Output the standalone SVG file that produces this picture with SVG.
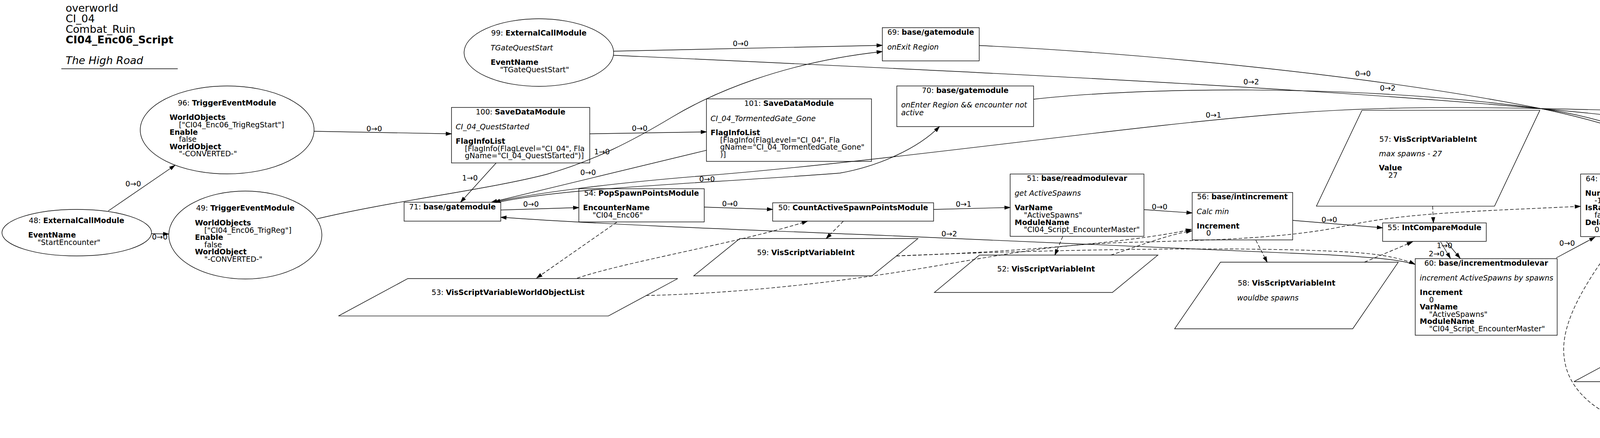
<svg xmlns="http://www.w3.org/2000/svg" width="5501" height="1121" viewBox="0 0 5501 1121">
<defs>
<style>
text{font-family:"DejaVu Sans","Liberation Sans",sans-serif;font-size:19px;fill:#000}
.b{font-weight:bold}.i{font-style:italic}.m{text-anchor:middle}
.h{font-size:27px}
.s{fill:#fff;stroke:#000;stroke-width:1.4}
.e{fill:none;stroke:#000;stroke-width:1.4}
.d{stroke-dasharray:9,5}
</style>
<marker id="a" markerWidth="15" markerHeight="10" refX="14" refY="5" orient="auto" markerUnits="userSpaceOnUse" overflow="visible"><path d="M0,0.5 L14,5 L0,9.5 z" fill="#000" stroke="#000" stroke-width="1"/></marker>
</defs>
<rect width="5501" height="1121" fill="#fff"/>
<g id="title">
<text class="h" x="168" y="30">overworld</text>
<text class="h" x="168" y="57">CI_04</text>
<text class="h" x="168" y="84">Combat_Ruin</text>
<text class="h b" x="168" y="111">CI04_Enc06_Script</text>
<text class="h i" x="168" y="164">The High Road</text>
<line x1="157" y1="176" x2="455" y2="176" stroke="#000" stroke-width="1.4"/>
</g>
<g id="nodes">
<g id="n48"><ellipse class="s" cx="196.5" cy="595.5" rx="191.5" ry="59.5"/>
<text class="m" x="196" y="571">48: <tspan class="b">ExternalCallModule</tspan></text>
<text class="b" x="72" y="608">EventName</text><text x="96" y="627">"StartEncounter"</text></g>
<g id="n96"><ellipse class="s" cx="581.5" cy="332.5" rx="222.5" ry="112.5"/>
<text class="m" x="581" y="270">96: <tspan class="b">TriggerEventModule</tspan></text>
<text class="b" x="434" y="307">WorldObjects</text><text x="458" y="326">["CI04_Enc06_TrigRegStart"]</text>
<text class="b" x="434" y="345">Enable</text><text x="458" y="363">false</text>
<text class="b" x="434" y="382">WorldObject</text><text x="458" y="400">"-CONVERTED-"</text></g>
<g id="n49"><ellipse class="s" cx="628" cy="601.5" rx="196" ry="112.5"/>
<text class="m" x="628" y="539">49: <tspan class="b">TriggerEventModule</tspan></text>
<text class="b" x="499" y="577">WorldObjects</text><text x="523" y="596">["CI04_Enc06_TrigReg"]</text>
<text class="b" x="499" y="614">Enable</text><text x="523" y="633">false</text>
<text class="b" x="499" y="651">WorldObject</text><text x="523" y="670">"-CONVERTED-"</text></g>
<g id="n99"><ellipse class="s" cx="1379.5" cy="134.5" rx="191.5" ry="86.5"/>
<text class="m" x="1379.5" y="91">99: <tspan class="b">ExternalCallModule</tspan></text>
<text class="i" x="1256" y="129">TGateQuestStart</text>
<text class="b" x="1256" y="166">EventName</text><text x="1280" y="184.5">"TGateQuestStart"</text></g>
<g id="n100"><rect class="s" x="1155.8" y="275" width="353.9" height="142"/>
<text class="m" x="1332.7" y="293">100: <tspan class="b">SaveDataModule</tspan></text>
<text class="i" x="1166.5" y="331">CI_04_QuestStarted</text>
<text class="b" x="1166.5" y="368">FlagInfoList</text>
<text x="1190" y="387">[FlagInfo(FlagLevel="CI_04", Fla</text>
<text x="1190" y="405">gName="CI_04_QuestStarted")]</text></g>
<g id="n101"><rect class="s" x="1808.5" y="253" width="422.5" height="160"/>
<text class="m" x="2020" y="271">101: <tspan class="b">SaveDataModule</tspan></text>
<text class="i" x="1819" y="310">CI_04_TormentedGate_Gone</text>
<text class="b" x="1819" y="346">FlagInfoList</text>
<text x="1843.5" y="364.6">[FlagInfo(FlagLevel="CI_04", Fla</text>
<text x="1843.5" y="383">gName="CI_04_TormentedGate_Gone"</text>
<text x="1843.5" y="402">)]</text></g>
<g id="n69"><rect class="s" x="2258.7" y="70.8" width="248" height="85"/>
<text class="m" x="2382.7" y="89.4">69: <tspan class="b">base/gatemodule</tspan></text>
<text class="i" x="2271.5" y="126.5">onExit Region</text></g>
<g id="n70"><rect class="s" x="2295.8" y="220" width="350.2" height="104"/>
<text class="m" x="2471" y="238">70: <tspan class="b">base/gatemodule</tspan></text>
<text class="i" x="2307" y="275">onEnter Region &amp;&amp; encounter not</text>
<text class="i" x="2307" y="294.5">active</text></g>
<g id="n71"><rect class="s" x="1034.5" y="517.6" width="247.5" height="48.4"/>
<text class="m" x="1158.2" y="536">71: <tspan class="b">base/gatemodule</tspan></text></g>
<g id="n54"><rect class="s" x="1481.8" y="483" width="321" height="85"/>
<text class="m" x="1642.3" y="501">54: <tspan class="b">PopSpawnPointsModule</tspan></text>
<text class="b" x="1492.5" y="538">EncounterName</text><text x="1517" y="557">"CI04_Enc06"</text></g>
<g id="n50"><rect class="s" x="1978" y="519" width="412" height="47"/>
<text class="m" x="2184" y="537.6">50: <tspan class="b">CountActiveSpawnPointsModule</tspan></text></g>
<g id="n53"><polygon class="s" points="1044,713 1735,713 1557.6,808.6 866.5,808.6"/>
<text class="m" x="1300.8" y="755">53: <tspan class="b">VisScriptVariableWorldObjectList</tspan></text></g>
<g id="n59"><polygon class="s" points="1894,610.5 2350,610.5 2232,706 1776,706"/>
<text class="m" x="2063" y="652.7">59: <tspan class="b">VisScriptVariableInt</tspan></text></g>
<g id="n51"><rect class="s" x="2586" y="445.4" width="342.5" height="159.4"/>
<text class="m" x="2757.2" y="463">51: <tspan class="b">base/readmodulevar</tspan></text>
<text class="i" x="2597.5" y="501">get ActiveSpawns</text>
<text class="b" x="2597.5" y="538">VarName</text><text x="2621" y="557">"ActiveSpawns"</text>
<text class="b" x="2597.5" y="575.5">ModuleName</text><text x="2621" y="594">"CI04_Script_EncounterMaster"</text></g>
<g id="n52"><polygon class="s" points="2507.5,652.7 2964.3,652.7 2847.8,748.5 2392,748.5"/>
<text class="m" x="2677.9" y="695">52: <tspan class="b">VisScriptVariableInt</tspan></text></g>
<g id="n56"><rect class="s" x="3052" y="492.6" width="257.3" height="121.4"/>
<text class="m" x="3180.6" y="510">56: <tspan class="b">base/intincrement</tspan></text>
<text class="i" x="3063.6" y="547.6">Calc min</text>
<text class="b" x="3063.6" y="585">Increment</text><text x="3088" y="603">0</text></g>
<g id="n58"><polygon class="s" points="3124.4,671 3579.6,671 3463,841.5 3007,841.5"/>
<text class="m" x="3293.5" y="731">58: <tspan class="b">VisScriptVariableInt</tspan></text>
<text class="i" x="3167" y="769">wouldbe spawns</text></g>
<g id="n57"><polygon class="s" points="3486.6,282.4 3942,282.4 3826,527.6 3370,527.6"/>
<text class="m" x="3656" y="362.5">57: <tspan class="b">VisScriptVariableInt</tspan></text>
<text class="i" x="3530" y="399.6">max spawns - 27</text>
<text class="b" x="3530" y="436">Value</text><text x="3554" y="455">27</text></g>
<g id="n55"><rect class="s" x="3539.5" y="570.5" width="265.3" height="47.2"/>
<text class="m" x="3672.2" y="589">55: <tspan class="b">IntCompareModule</tspan></text></g>
<g id="n60"><rect class="s" x="3623" y="662" width="363.4" height="196"/>
<text class="m" x="3804.7" y="680">60: <tspan class="b">base/incrementmodulevar</tspan></text>
<text class="i" x="3634.6" y="717.8">increment ActiveSpawns by spawns</text>
<text class="b" x="3634.6" y="755">Increment</text><text x="3658.6" y="773.5">0</text>
<text class="b" x="3634.6" y="792">VarName</text><text x="3658.6" y="810.7">"ActiveSpawns"</text>
<text class="b" x="3634.6" y="829">ModuleName</text><text x="3658.6" y="848">"CI04_Script_EncounterMaster"</text></g>
<g id="n64"><rect class="s" x="4046.4" y="445.4" width="361.6" height="160.1"/>
<text class="m" x="4227.2" y="464">64: <tspan class="b">SpawnMonsterEventModule</tspan></text>
<text class="b" x="4058" y="501">NumberToSpawn</text><text x="4082" y="519.7">-1</text>
<text class="b" x="4058" y="538">IsRandom</text><text x="4082" y="557">false</text>
<text class="b" x="4058" y="575.5">DelayTime</text><text x="4082" y="594">0.03</text></g>
<g id="n63"><polygon class="s" points="4207,881.5 4898,881.5 4720.3,976.8 4029,976.8"/>
<text class="m" x="4463.5" y="923">63: <tspan class="b">VisScriptVariableWorldObjectList</tspan></text></g>
<g id="n68"><polygon class="s" points="4419,1020 4874,1020 4757,1115 4303,1115"/>
<text class="m" x="4588" y="1062">68: <tspan class="b">VisScriptVariableInt</tspan></text></g>
<g id="n61"><rect class="s" x="4488.7" y="443" width="268.1" height="159.7"/>
<text class="m" x="4622.7" y="461">61: <tspan class="b">base/distancedelay</tspan></text>
<text class="i" x="4501.5" y="498">if far from all creatures</text>
<text class="b" x="4501.5" y="535.5">Enabled</text><text x="4525.5" y="554">false</text>
<text class="b" x="4501.5" y="572.6">Distance</text><text x="4525.5" y="591">2400</text></g>
<g id="n62"><rect class="s" x="4799.6" y="488" width="281.4" height="84.6"/>
<text class="m" x="4940.3" y="506">62: <tspan class="b">ObjectToggleModule</tspan></text>
<text class="i" x="4811" y="543">delete creatures</text></g>
<g id="n65"><rect class="s" x="5017.7" y="211" width="370.3" height="233.7"/>
<text class="m" x="5202.8" y="229.5">65: <tspan class="b">base/incrementmodulevar</tspan></text>
<text class="i" x="5030" y="266">decrement ActiveSpawns by spawns</text>
<text class="b" x="5030" y="303">Increment</text><text x="5054" y="321.7">0</text>
<text class="b" x="5030" y="340">Operator</text><text x="5054" y="359">1</text>
<text class="b" x="5030" y="377.5">VarName</text><text x="5054" y="396">"ActiveSpawns"</text>
<text class="b" x="5030" y="414.6">ModuleName</text><text x="5054" y="433">"CI04_Script_EncounterMaster"</text></g>
<g id="n67"><rect class="s" x="4852.6" y="712.8" width="257.4" height="122.2"/>
<text class="m" x="4981.3" y="731">67: <tspan class="b">base/intincrement</tspan></text>
<text class="i" x="4864" y="768.5">decrement local count</text>
<text class="b" x="4864" y="805.7">Operator</text><text x="4888" y="824">1</text></g>
<g id="n66"><rect class="s" x="5153.5" y="674" width="342.5" height="197.5"/>
<text class="m" x="5324.8" y="692.7">66: <tspan class="b">base/incrementmodulevar</tspan></text>
<text class="i" x="5165" y="730">decrement ActiveSpawns by 1</text>
<text class="b" x="5165" y="767">Operator</text><text x="5189" y="785.7">1</text>
<text class="b" x="5165" y="804">VarName</text><text x="5189" y="823">"ActiveSpawns"</text>
<text class="b" x="5165" y="841.5">ModuleName</text><text x="5189" y="860">"CI04_Script_EncounterMaster"</text></g>
</g>
<g id="edges">
<path class="e" d="M277,540 L448,423" marker-end="url(#a)"/>
<path class="e" d="M388,598 L432,599" marker-end="url(#a)"/>
<path class="e" d="M804,336 L1155.8,342.5" marker-end="url(#a)"/>
<path class="e" d="M1509.7,342.5 L1808.5,337.5" marker-end="url(#a)"/>
<path class="e" d="M812,560 C1000,515 1250,485 1400,446 C1520,412 1620,360 1720,300 C1820,240 2000,160 2258.7,132" marker-end="url(#a)"/>
<path class="e" d="M1571,131 L2258.7,116" marker-end="url(#a)"/>
<path class="e" d="M1571,141.5 C2300,175 3300,220 3945,278 C4300,310 4700,360 4866,488" marker-end="url(#a)"/>
<path class="e" d="M2506.7,116.5 C2900,135 3500,190 3945,278 C4150,320 4350,395 4488.7,458" marker-end="url(#a)"/>
<path class="e" d="M2646,254 C2900,225 3450,212 3945,278 C4150,305 4345,398 4488.7,463" marker-end="url(#a)"/>
<path class="e" d="M1276,517.6 C1450,480 1800,470 2150,443 C2250,425 2350,380 2405,324" marker-end="url(#a)"/>
<path class="e" d="M5017.7,318 C4700,300 4200,282 3945,278 C3700,272 3500,275 3300,290 C2900,320 2300,410 1800,450 C1550,470 1350,497 1266,517.6" marker-end="url(#a)"/>
<path class="e" d="M1808.5,384.6 L1258,517.6" marker-end="url(#a)"/>
<path class="e" d="M1270,417.3 L1179,517.6" marker-end="url(#a)"/>
<path class="e" d="M1282,537.5 L1481.8,531.3" marker-end="url(#a)"/>
<path class="e" d="M3623,677 C3580,664 3520,659 3400,652 L2250,602 C1900,588 1550,575 1282,556" marker-end="url(#a)"/>
<path class="e" d="M1802.8,530 L1978,536" marker-end="url(#a)"/>
<path class="e" d="M2390,536 L2586,531" marker-end="url(#a)"/>
<path class="e" d="M2928.5,536.5 L3052,545" marker-end="url(#a)"/>
<path class="e" d="M3309,564 L3539.5,583" marker-end="url(#a)"/>
<path class="e" d="M3688,619 L3713,661" marker-end="url(#a)"/>
<path class="e" d="M3703,619 L3738,661" marker-end="url(#a)"/>
<path class="e" d="M3984,660 L4083,607" marker-end="url(#a)"/>
<path class="e" d="M4408,524.4 L4488.7,524.4" marker-end="url(#a)"/>
<path class="e" d="M4756.8,526 L4799.6,527" marker-end="url(#a)"/>
<path class="e" d="M4996,488 L5050,444.7" marker-end="url(#a)"/>
<path class="e" d="M4408,586 L4852.6,730.6" marker-end="url(#a)"/>
<path class="e" d="M5110,773 L5153.5,773" marker-end="url(#a)"/>
<path class="e d" d="M1579,568.6 L1373.8,711.6" marker-end="url(#a)"/>
<path class="e d" d="M1477.5,712 C1600,670 1900,620 2067,566" marker-end="url(#a)"/>
<path class="e d" d="M1653.6,756.4 C1850,752 2100,730 2364,686 S2700,625 2900,620 S3300,610 3450,577 S3800,540 4046,528" marker-end="url(#a)"/>
<path class="e d" d="M2159,566 L2115,610.5" marker-end="url(#a)"/>
<path class="e d" d="M2294.6,655 C2600,645 2900,620 3050,587" marker-end="url(#a)"/>
<path class="e d" d="M2294.6,655 C2700,638 3200,630 3450,645 C3540,650 3590,662 3622,676" marker-end="url(#a)"/>
<path class="e d" d="M2720.5,605.5 L2700.5,652.7" marker-end="url(#a)"/>
<path class="e d" d="M2844,652.7 C2900,635 2990,600 3051,591" marker-end="url(#a)"/>
<path class="e d" d="M3215,615 L3244,671" marker-end="url(#a)"/>
<path class="e d" d="M3493,671 L3616,619" marker-end="url(#a)"/>
<path class="e d" d="M3667.5,527.6 L3669.6,570.5" marker-end="url(#a)"/>
<path class="e d" d="M4274.5,605.5 C4320,690 4400,820 4433.6,881.5" marker-end="url(#a)"/>
<path class="e d" d="M4146,605.5 C4060,720 3990,830 4005,920 C4020,1030 4150,1100 4308,1109.5" marker-end="url(#a)"/>
<path class="e d" d="M4483.7,881.5 C4520,790 4565,680 4591.6,602.7" marker-end="url(#a)"/>
<path class="e d" d="M4523,881.5 C4650,780 4800,650 4889.7,572.6" marker-end="url(#a)"/>
<path class="e d" d="M4675,1020 C4760,970 4880,910 4940,836.7" marker-end="url(#a)"/>
<path class="e d" d="M4950,836.7 C4930,880 4910,895 4880,905 C4800,940 4730,980 4690,1012" marker-end="url(#a)"/>
<path class="e d" d="M4821.7,1020 C4950,975 5080,920 5110,850 C5140,760 5170,560 5183,445" marker-end="url(#a)"/>
<text class="m" x="341" y="477">0→0</text>
<text class="m" x="409" y="613">0→0</text>
<text class="m" x="958" y="336">0→0</text>
<text class="m" x="1637.6" y="335">0→0</text>
<text class="m" x="1541" y="395">1→0</text>
<text class="m" x="1203" y="462">1→0</text>
<text class="m" x="1505.6" y="448">0→0</text>
<text class="m" x="1810" y="464.5">0→0</text>
<text class="m" x="1896" y="118">0→0</text>
<text class="m" x="1359.3" y="529">0→0</text>
<text class="m" x="1868.6" y="528">0→0</text>
<text class="m" x="2430" y="604.7">0→2</text>
<text class="m" x="2466.7" y="529">0→1</text>
<text class="m" x="2968.6" y="536">0→0</text>
<text class="m" x="3106.5" y="301">0→1</text>
<text class="m" x="3203" y="216">0→2</text>
<text class="m" x="3489" y="195">0→0</text>
<text class="m" x="3552.5" y="231.6">0→2</text>
<text class="m" x="3403" y="569">0→0</text>
<text class="m" x="3698" y="634.6">1→0</text>
<text class="m" x="3677.5" y="655.6">2→0</text>
<text class="m" x="4011.7" y="628.5">0→0</text>
<text class="m" x="4426.5" y="520">0→1</text>
<text class="m" x="4777" y="542.5">0→2</text>
<text class="m" x="5002" y="462">0→0</text>
<text class="m" x="4608.8" y="654.7">1→0</text>
<text class="m" x="5130.6" y="789.8">0→0</text>
</g>
</svg>
